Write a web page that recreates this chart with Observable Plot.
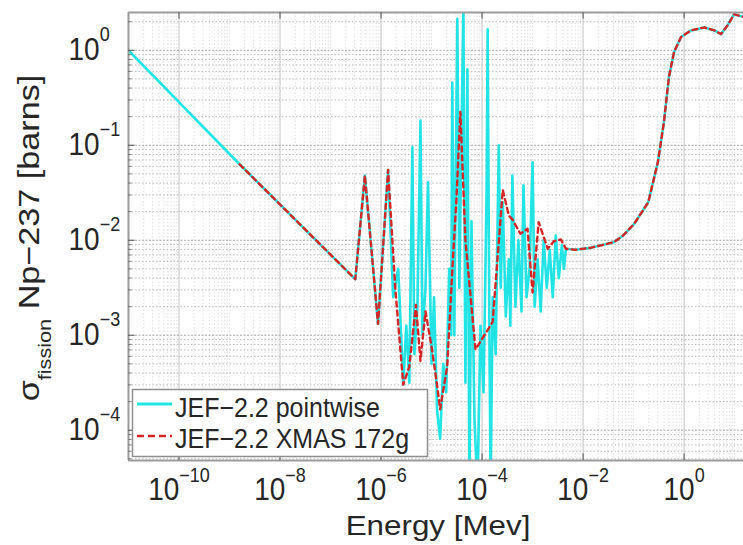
<!DOCTYPE html>
<html><head><meta charset="utf-8">
<script src="https://cdn.jsdelivr.net/npm/d3@7"></script>
<script src="https://cdn.jsdelivr.net/npm/@observablehq/plot@0.6"></script>
<style>
html,body{margin:0;padding:0;background:#fff;overflow:hidden}
#chart svg{display:block}
</style>
</head><body>
<div id="chart"></div>
<script>
// ---- data (energy in MeV, cross section in barns) ----
const pointwiseEnergy = [
  1e-11, 1.58e-9, 3.09e-7, 4.79e-7, 8.71e-7, 1.38e-6, 1.74e-6, 2.19e-6, 2.75e-6, 3.16e-6,
  3.63e-6, 4.17e-6, 4.57e-6, 5.25e-6, 6.03e-6, 6.61e-6, 7.59e-6, 8.51e-6, 1.0e-5, 1.12e-5,
  1.29e-5, 1.48e-5, 1.70e-5, 1.95e-5, 2.24e-5, 2.45e-5, 2.57e-5, 2.82e-5, 3.24e-5, 3.55e-5,
  3.89e-5, 4.27e-5, 4.68e-5, 5.13e-5, 5.62e-5, 6.17e-5, 7.08e-5, 8.13e-5, 9.33e-5, 1.07e-4,
  1.23e-4, 1.29e-4, 1.41e-4, 1.48e-4, 1.62e-4, 1.86e-4, 2.14e-4, 2.34e-4, 2.57e-4, 2.95e-4,
  3.39e-4, 3.63e-4, 3.98e-4, 4.57e-4, 5.25e-4, 6.03e-4, 6.61e-4, 7.59e-4, 8.71e-4, 1.0e-3,
  1.10e-3, 1.26e-3, 1.45e-3, 1.66e-3, 1.91e-3, 2.19e-3, 2.51e-3, 2.88e-3, 3.31e-3, 3.80e-3,
  4.17e-3, 4.57e-3, 7.08e-3, 1.41e-2, 4.07e-2, 6.17e-2, 0.102, 0.195, 0.302, 0.398,
  0.501, 0.631, 0.871, 1.38, 2.51, 3.98, 5.37, 7.41, 9.77, 14.8
];
const pointwiseSigma = [
  1.0, 0.0631, 3.89e-3, 0.0479, 1.32e-3, 0.055, 2.51e-3, 5.01e-3, 3.02e-4, 1.26e-3,
  3.16e-4, 0.0955, 6.31e-4, 2.0e-3, 0.182, 1.0e-3, 3.16e-3, 0.0407, 5.01e-4, 2.51e-3,
  1.58e-4, 8.13e-5, 5.01e-4, 2.51e-4, 5.01e-3, 1.0e-3, 0.457, 1.0e-3, 2.14, 3.16e-3,
  0.1, 2.82, 3.16e-4, 0.631, 2.5e-5, 0.0158, 1.26e-4, 2.5e-5, 1.26e-3, 2.51e-4,
  0.0316, 1.66, 5.01e-4, 2.5e-5, 2.51e-3, 6.31e-4, 0.1, 3.16e-3, 0.0251, 1.58e-3,
  6.31e-3, 1.26e-3, 0.0479, 2.0e-3, 0.01, 1.78e-3, 0.038, 2.51e-3, 5.01e-3, 0.0661,
  2.0e-3, 6.31e-3, 1.78e-3, 0.01, 3.16e-3, 7.94e-3, 2.51e-3, 0.0112, 3.98e-3, 8.91e-3,
  5.01e-3, 8.13e-3, 7.94e-3, 8.32e-3, 9.55e-3, 0.0112, 0.0148, 0.0251, 0.0661, 0.174,
  0.525, 0.955, 1.38, 1.62, 1.74, 1.62, 1.48, 1.86, 2.4, 2.25
];
const xmasEnergy = [
  1.58e-9, 3.09e-7, 4.79e-7, 8.71e-7, 1.38e-6, 1.91e-6, 2.75e-6, 3.63e-6, 4.90e-6, 6.03e-6,
  7.59e-6, 1.02e-5, 1.29e-5, 1.48e-5, 2.04e-5, 2.69e-5, 3.09e-5, 3.72e-5, 4.68e-5, 7.41e-5,
  1.62e-4, 2.57e-4, 3.39e-4, 3.98e-4, 5.75e-4, 7.94e-4, 1.0e-3, 1.32e-3, 2.0e-3, 2.63e-3,
  3.63e-3, 4.57e-3, 7.08e-3, 1.41e-2, 4.07e-2, 6.17e-2, 0.102, 0.195, 0.302, 0.398,
  0.501, 0.631, 0.871, 1.38, 2.51, 3.98, 5.37, 7.41, 9.77, 14.8
];
const xmasSigma = [
  0.0631, 3.89e-3, 0.0479, 1.32e-3, 0.055, 3.16e-3, 3.02e-4, 4.68e-4, 2.09e-3, 5.37e-4,
  1.78e-3, 7.08e-4, 2.95e-4, 1.66e-4, 4.68e-4, 7.41e-3, 0.0251, 0.224, 0.01, 7.08e-4,
  1.38e-3, 0.0339, 0.0182, 0.0166, 0.0117, 0.0132, 2.82e-3, 0.0155, 8.13e-3, 9.77e-3,
  0.0102, 8.13e-3, 7.94e-3, 8.32e-3, 9.55e-3, 0.0112, 0.0148, 0.0251, 0.0661, 0.174,
  0.525, 0.955, 1.38, 1.62, 1.74, 1.62, 1.48, 1.86, 2.4, 2.25
];
const seriesNames = ["JEF\u22122.2 pointwise", "JEF\u22122.2 XMAS 172g"];
const xTickExponents = [-10, -8, -6, -4, -2, 0];
const yTickExponents = [0, -1, -2, -3, -4];
const xLabel = "Energy [Mev]";
const yLabelParts = ["\u03c3", "fission", "Np\u2212237 [barns]"];
const xDomain = [1e-11, 15];
const yDomain = [4.8e-5, 2.5];

// ---- derived tables ----
const pointwise = pointwiseEnergy.map((e, i) => ({e, s: pointwiseSigma[i]}));
const xmas = xmasEnergy.map((e, i) => ({e, s: xmasSigma[i]}));
const xMajor = xTickExponents.map(k => Math.pow(10, k));
const yMajor = yTickExponents.map(k => Math.pow(10, k));
const yMinor = [];
for (let k = -5; k <= 0; k++) for (let m = 2; m <= 9; m++) {
  const v = m * Math.pow(10, k);
  if (v >= yDomain[0] && v <= yDomain[1]) yMinor.push(v);
}
const xMinor = [];
for (let k = -11; k <= 1; k++) for (let m = 1; m <= 9; m++) {
  if (m === 1 && xTickExponents.includes(k)) continue;
  const v = m * Math.pow(10, k);
  if (v > xDomain[0] && v < xDomain[1]) xMinor.push(v);
}

const FONT = "'Liberation Sans', Arial, Helvetica, sans-serif";
const CYAN = "#22e4e4";
const RED = "#d42626";
const INK = "#262626";
const expFmt = d => "10^" + String(Math.round(Math.log10(d))).replace("-", "\u2212");

const plot = Plot.plot({
  width: 743,
  height: 545,
  marginLeft: 128,
  marginRight: 0,
  marginTop: 12,
  marginBottom: 85,
  style: {fontFamily: FONT, background: "white", color: INK, overflow: "visible"},
  x: {type: "log", domain: xDomain, label: null},
  y: {type: "log", domain: yDomain, label: null},
  marks: [
    // grid
    Plot.ruleX(xMinor, {x: d => d, stroke: "#d9d9d9", strokeWidth: 0.8, strokeDasharray: "1.5,2"}),
    Plot.ruleY(yMinor, {y: d => d, stroke: "#b3b3b3", strokeWidth: 0.9, strokeDasharray: "1.5,2"}),
    Plot.ruleX(xMajor, {x: d => d, stroke: "#c4c4c4", strokeWidth: 1}),
    Plot.ruleY(yMajor, {y: d => d, stroke: "#a8a8a8", strokeWidth: 1, strokeDasharray: "2,1.5"}),
    // data
    Plot.line(pointwise, {x: "e", y: "s", stroke: CYAN, strokeWidth: 2.6, clip: true}),
    Plot.line(xmas, {x: "e", y: "s", stroke: RED, strokeWidth: 2.4, strokeDasharray: "5,4", clip: true}),
    // axes box
    Plot.ruleY([yDomain[0], yDomain[1]], {y: d => d, stroke: "#9c9c9c", strokeWidth: 2}),
    Plot.ruleX([xDomain[0]], {x: d => d, stroke: "#9c9c9c", strokeWidth: 2}),
    // inward ticks
    Plot.ruleY(yMajor, {y: d => d, x1: () => xDomain[0], x2: () => xDomain[0] * Math.pow(10, 0.13), stroke: "#555", strokeWidth: 1}),
    Plot.ruleY(yMinor, {y: d => d, x1: () => xDomain[0], x2: () => xDomain[0] * Math.pow(10, 0.07), stroke: "#666", strokeWidth: 0.8}),
    Plot.ruleX(xMajor, {x: d => d, y1: () => yDomain[0], y2: () => yDomain[0] * Math.pow(10, 0.07), stroke: "#555", strokeWidth: 1}),
    Plot.ruleX(xMajor, {x: d => d, y1: () => yDomain[1], y2: () => yDomain[1] / Math.pow(10, 0.07), stroke: "#555", strokeWidth: 1}),
    // tick labels
    Plot.axisX(xMajor, {anchor: "bottom", label: null, tickSize: 0, tickPadding: 18, fontSize: 28, tickFormat: expFmt, fill: INK}),
    Plot.axisY(yMajor, {anchor: "left", label: null, tickSize: 0, tickPadding: 0, textAnchor: "start", dx: -60, fontSize: 28, tickFormat: expFmt, fill: INK})
  ]
});

document.getElementById("chart").appendChild(plot);
const svg = d3.select(plot);

// superscript exponents on tick labels
svg.selectAll('g[aria-label="x-axis tick label"] text, g[aria-label="y-axis tick label"] text').each(function () {
  const t = d3.select(this);
  const parts = t.text().split("^");
  t.text(null);
  t.append("tspan").text(parts[0]);
  t.append("tspan").attr("font-size", 18).attr("dy", -17).text(parts[1]);
  const tr = t.attr("transform") || "";
  t.attr("transform", tr + " scale(1,1.1)");
});

// axis titles
svg.append("text")
  .attr("transform", "translate(438,535) scale(1.12,1)")
  .attr("text-anchor", "middle").attr("font-size", 28).attr("fill", INK).attr("font-family", FONT)
  .text(xLabel);
const yl = svg.append("text")
  .attr("transform", "translate(39,238) rotate(-90) scale(1.14,1)")
  .attr("text-anchor", "middle").attr("font-size", 30).attr("fill", INK).attr("font-family", FONT);
yl.append("tspan").text(yLabelParts[0]);
yl.append("tspan").attr("font-size", 19).attr("dy", 12).text(yLabelParts[1]);
yl.append("tspan").attr("dy", -12).text(" " + yLabelParts[2]);

// legend
const lg = svg.append("g").attr("font-family", FONT).attr("text-anchor", "start");
lg.append("rect").attr("x", 132.5).attr("y", 389.5).attr("width", 295).attr("height", 67)
  .attr("fill", "white").attr("stroke", "#8f8f8f").attr("stroke-width", 1.5);
const legendRows = [
  {name: seriesNames[0], color: CYAN, dash: null, ly: 404, ty: 417},
  {name: seriesNames[1], color: RED, dash: "7,4", ly: 436, ty: 448}
];
legendRows.forEach(r => {
  const ln = lg.append("line").attr("x1", 137).attr("x2", 172).attr("y1", r.ly).attr("y2", r.ly)
    .attr("stroke", r.color).attr("stroke-width", r.dash ? 2.6 : 3);
  if (r.dash) ln.attr("stroke-dasharray", r.dash);
  lg.append("text").attr("transform", `translate(175,${r.ty}) scale(1,1.12)`)
    .attr("text-anchor", "start").attr("font-size", 25).attr("fill", INK).text(r.name);
});
</script>
</body></html>
